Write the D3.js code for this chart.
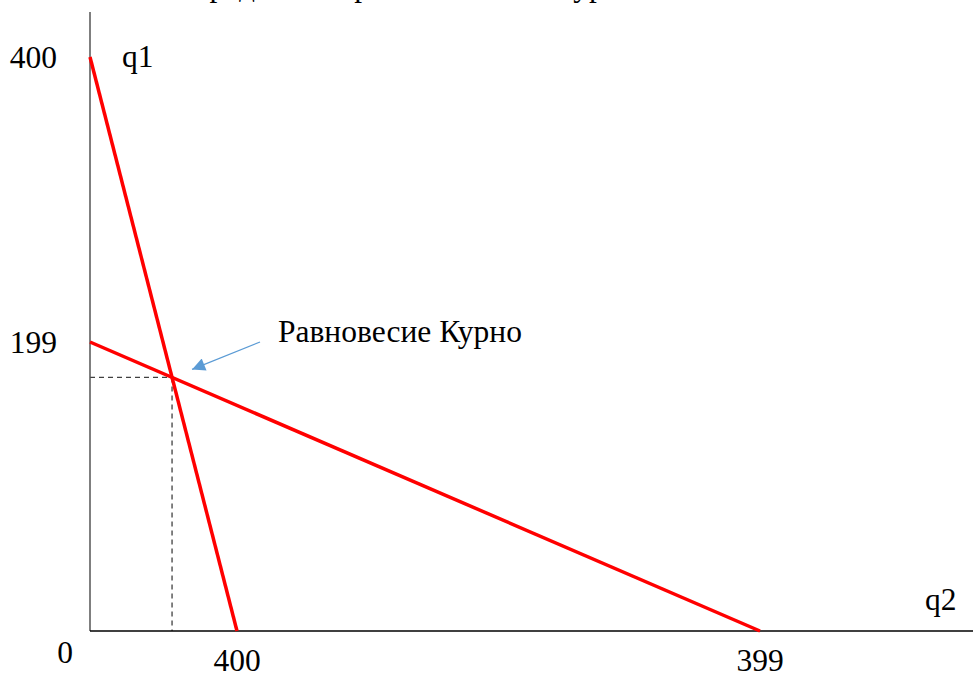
<!DOCTYPE html>
<html><head><meta charset="utf-8">
<script src="https://cdn.jsdelivr.net/npm/d3@7"></script>
<style>
html,body{margin:0;padding:0;background:#fff;overflow:hidden}
text{font-family:"Liberation Serif","Times New Roman",serif;fill:#000}
</style></head>
<body><svg id="c" width="973" height="673"></svg>
<script>
// Data (chart units along q2 / q1 axes)
const titleText = "Определение равновесия по Курно";
const reaction1 = [{q2:0, q1:574}, {q2:147, q1:0}];   // red steep line
const reaction2 = [{q2:0, q1:289}, {q2:670, q1:0}];   // red flat line
const yTickVals = [574, 289];
const yTickLabels = ["400", "199"];
const xTickVals = [147, 670];
const xTickLabels = ["400", "399"];
const originLabel = "0";
const axisLabels = {x:"q2", y:"q1"};
const annotation = "Равновесие Курно";

const FS = 31.5;
const svg = d3.select("#c");
const x = d3.scaleLinear().domain([0, 883]).range([90, 973]);
const y = d3.scaleLinear().domain([0, 619]).range([631, 12]);

// title (cut at top, as in the reference)
svg.append("text").attr("x", 170).attr("y", -4).attr("font-size", FS).text(titleText);

// equilibrium
function lineParams(l){ const m=(l[1].q1-l[0].q1)/(l[1].q2-l[0].q2); return {m, b:l[0].q1}; }
const p1=lineParams(reaction1), p2=lineParams(reaction2);
const eqQ2=(p2.b-p1.b)/(p1.m-p2.m), eqQ1=p1.b+p1.m*eqQ2;

// dashed guides
const dash = svg.append("g").attr("stroke","#404040").attr("stroke-width",1.3).attr("stroke-dasharray","5,4").attr("fill","none");
dash.append("line").attr("x1",x(0)).attr("y1",y(eqQ1)).attr("x2",x(eqQ2)).attr("y2",y(eqQ1));
dash.append("line").attr("x1",x(eqQ2)).attr("y1",y(eqQ1)).attr("x2",x(eqQ2)).attr("y2",y(0));

// axes
svg.append("line").attr("x1",x(0)).attr("y1",y(0)).attr("x2",x(0)).attr("y2",y(619))
  .attr("stroke","#555").attr("stroke-width",1.5);
svg.append("line").attr("x1",x(0)).attr("y1",y(0)).attr("x2",x(883)).attr("y2",y(0))
  .attr("stroke","#000").attr("stroke-width",1.5);

// reaction lines
const lg = d3.line().x(d=>x(d.q2)).y(d=>y(d.q1));
[reaction1, reaction2].forEach(l=>{
  svg.append("path").datum(l).attr("d", lg).attr("stroke","#ff0000").attr("stroke-width",3.5).attr("fill","none");
});

// tick labels
svg.selectAll(".yt").data(yTickVals).enter().append("text")
  .attr("x",57).attr("y",d=>y(d)+11).attr("text-anchor","end").attr("font-size",FS)
  .text((d,i)=>yTickLabels[i]);
svg.selectAll(".xt").data(xTickVals).enter().append("text")
  .attr("x",d=>x(d)).attr("y",671).attr("text-anchor","middle").attr("font-size",FS)
  .text((d,i)=>xTickLabels[i]);
svg.append("text").attr("x",65).attr("y",663).attr("text-anchor","middle").attr("font-size",FS).text(originLabel);

// axis labels
svg.append("text").attr("x",122).attr("y",67).attr("font-size",FS).text(axisLabels.y);
svg.append("text").attr("x",925).attr("y",610).attr("font-size",FS).text(axisLabels.x);

// annotation
svg.append("text").attr("x",278).attr("y",342).attr("font-size",FS).text(annotation);
const defs = svg.append("defs");
defs.append("marker").attr("id","ah").attr("viewBox","0 0 10 10").attr("refX",10).attr("refY",5)
  .attr("markerWidth",16).attr("markerHeight",13).attr("markerUnits","userSpaceOnUse").attr("orient","auto")
  .append("path").attr("d","M0,0 L10,5 L0,10 z").attr("fill","#5b9bd5");
svg.append("line").attr("x1",260).attr("y1",342).attr("x2",x(eqQ2)+20).attr("y2",y(eqQ1)-8)
  .attr("stroke","#5b9bd5").attr("stroke-width",1.3).attr("marker-end","url(#ah)");
</script></body></html>
